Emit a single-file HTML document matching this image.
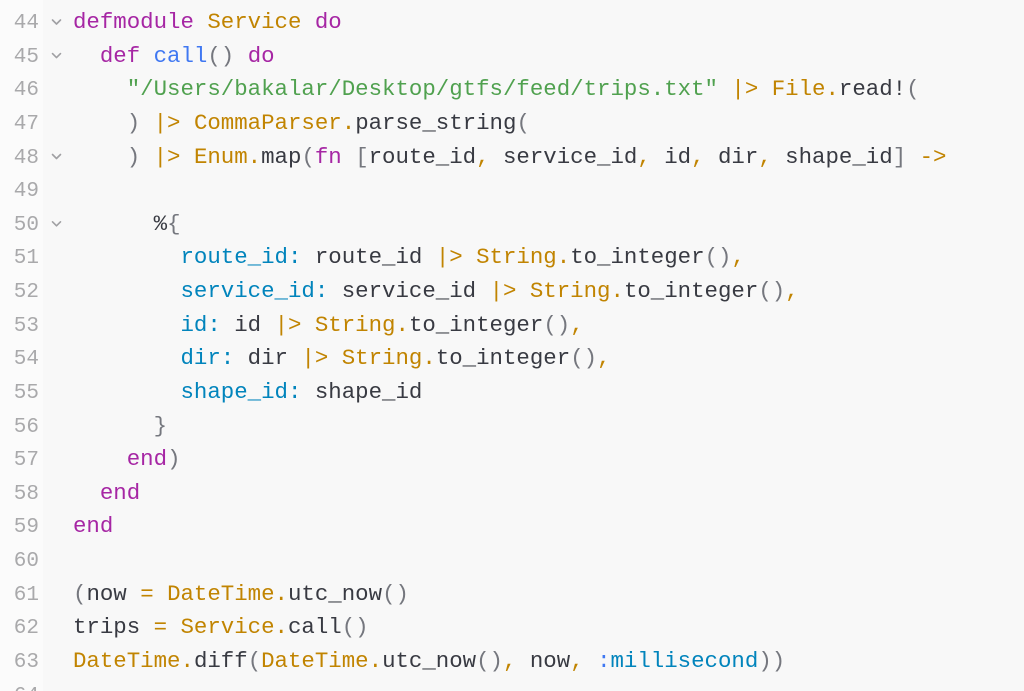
<!DOCTYPE html>
<html>
<head>
<meta charset="utf-8">
<style>
  html, body { margin:0; padding:0; width:1024px; height:691px; overflow:hidden; }
  body { background:#f8f8f8; position:relative; }
  .gutter { position:absolute; left:0; top:0; width:43px; height:691px; background:#fbfbfb; }
  .wrap { position:absolute; left:0; top:0; width:1024px; height:691px; overflow:hidden; }
  pre { margin:0; position:absolute; font-family:"Liberation Mono", "DejaVu Sans Mono", monospace; }
  .code { left:73px; top:6px; font-size:22.4px; line-height:33.63px; color:#383a42; }
  .nums { left:0; width:39px; top:7px; font-size:21px; line-height:33.63px; color:#a9a9ab; text-align:right; }
  .k { color:#a626a4; }
  .o { color:#c18401; }
  .s { color:#50a14f; }
  .f { color:#4078f2; }
  .a { color:#0184bc; }
  .p { color:#75777e; }
  svg { position:absolute; left:0; top:0; }
</style>
</head>
<body>
<div class="wrap">
<div class="gutter"></div>
<pre class="nums">44
45
46
47
48
49
50
51
52
53
54
55
56
57
58
59
60
61
62
63
64</pre>
<svg width="80" height="691" viewBox="0 0 80 691">
  <g fill="none" stroke="#a0a0a3" stroke-width="1.6" stroke-linecap="round" stroke-linejoin="round">
    <polyline points="52.5,20 56.5,24 60.5,20"/>
    <polyline points="52.5,53.6 56.5,57.6 60.5,53.6"/>
    <polyline points="52.5,154.5 56.5,158.5 60.5,154.5"/>
    <polyline points="52.5,221.8 56.5,225.8 60.5,221.8"/>
  </g>
</svg>
<pre class="code"><span class="k">defmodule</span> <span class="o">Service</span> <span class="k">do</span>
  <span class="k">def</span> <span class="f">call</span><span class="p">()</span> <span class="k">do</span>
    <span class="s">"/Users/bakalar/Desktop/gtfs/feed/trips.txt"</span> <span class="o">|&gt;</span> <span class="o">File.</span>read!<span class="p">(</span>
    <span class="p">)</span> <span class="o">|&gt;</span> <span class="o">CommaParser.</span>parse_string<span class="p">(</span>
    <span class="p">)</span> <span class="o">|&gt;</span> <span class="o">Enum.</span>map<span class="p">(</span><span class="k">fn</span> <span class="p">[</span>route_id<span class="o">,</span> service_id<span class="o">,</span> id<span class="o">,</span> dir<span class="o">,</span> shape_id<span class="p">]</span> <span class="o">-&gt;</span>

      %<span class="p">{</span>
        <span class="a">route_id:</span> route_id <span class="o">|&gt;</span> <span class="o">String.</span>to_integer<span class="p">()</span><span class="o">,</span>
        <span class="a">service_id:</span> service_id <span class="o">|&gt;</span> <span class="o">String.</span>to_integer<span class="p">()</span><span class="o">,</span>
        <span class="a">id:</span> id <span class="o">|&gt;</span> <span class="o">String.</span>to_integer<span class="p">()</span><span class="o">,</span>
        <span class="a">dir:</span> dir <span class="o">|&gt;</span> <span class="o">String.</span>to_integer<span class="p">()</span><span class="o">,</span>
        <span class="a">shape_id:</span> shape_id
      <span class="p">}</span>
    <span class="k">end</span><span class="p">)</span>
  <span class="k">end</span>
<span class="k">end</span>

<span class="p">(</span>now <span class="o">=</span> <span class="o">DateTime.</span>utc_now<span class="p">()</span>
trips <span class="o">=</span> <span class="o">Service.</span>call<span class="p">()</span>
<span class="o">DateTime.</span>diff<span class="p">(</span><span class="o">DateTime.</span>utc_now<span class="p">()</span><span class="o">,</span> now<span class="o">,</span> <span class="f">:</span><span class="a">millisecond</span><span class="p">))</span></pre>
</div>
</body>
</html>
